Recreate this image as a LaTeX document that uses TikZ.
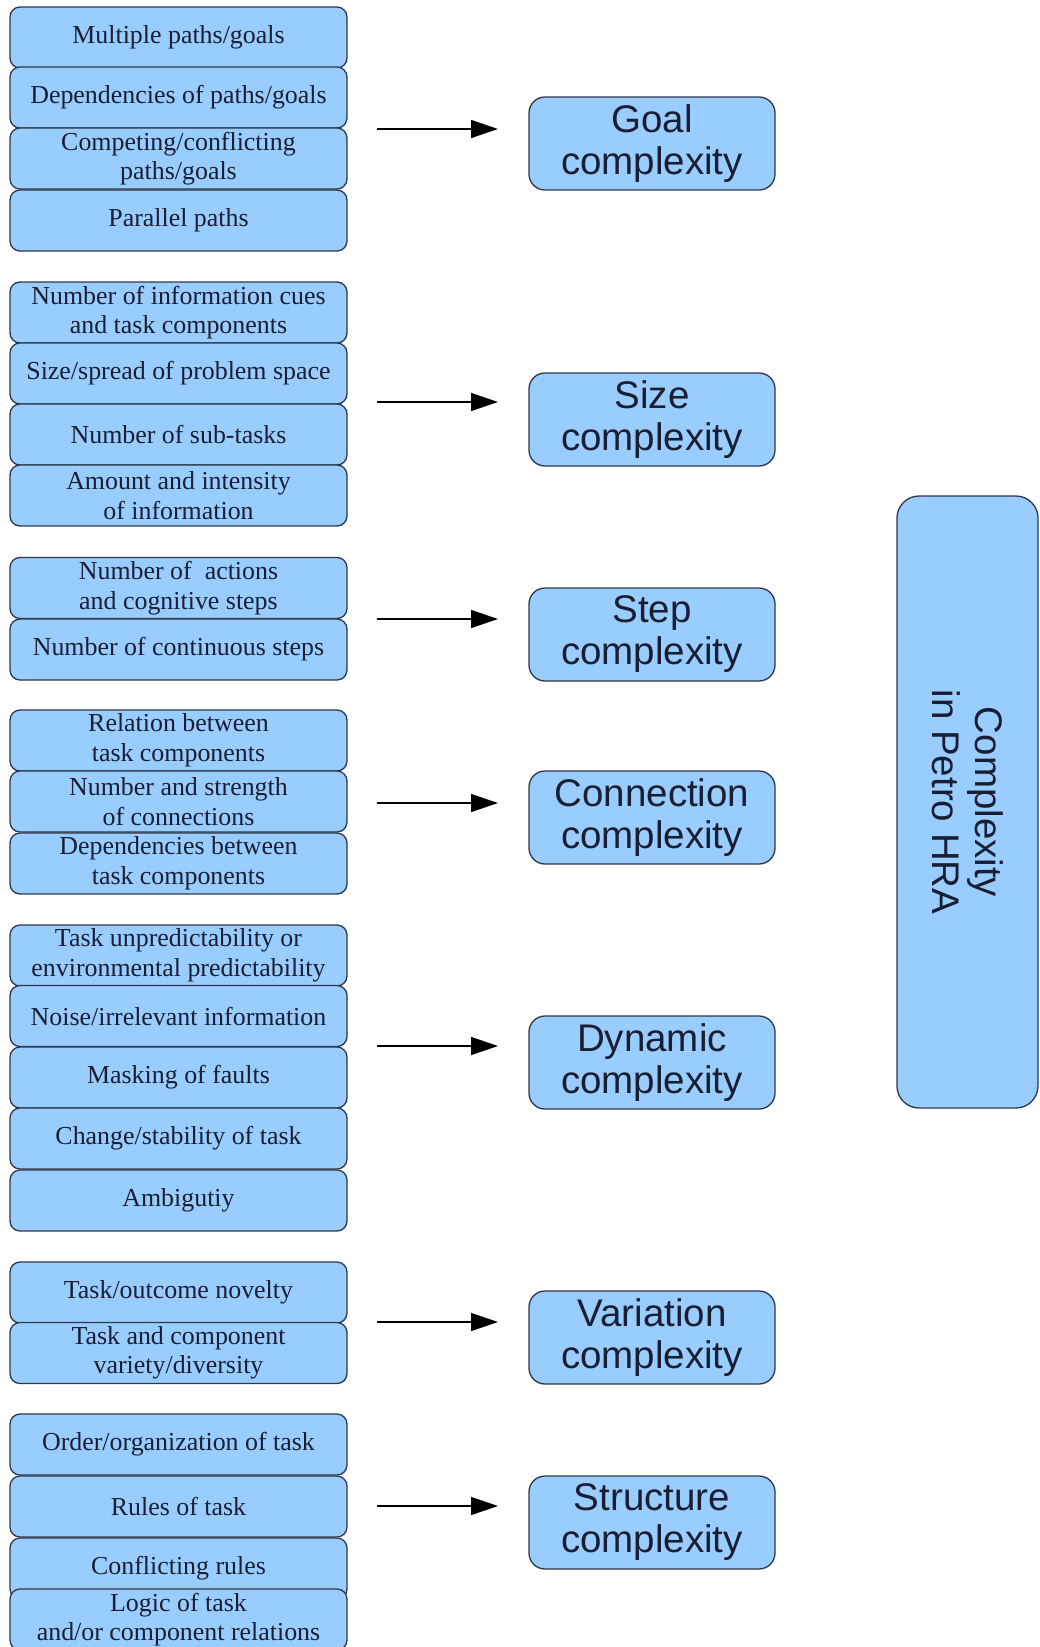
\documentclass[tikz,border=0pt]{standalone}
\usepackage{fontspec}
\setmainfont{Liberation Serif}
\newfontfamily\arialf{Liberation Sans}
\usetikzlibrary{arrows.meta}
\definecolor{boxfill}{RGB}{153,204,255}
\definecolor{boxline}{RGB}{45,55,75}
\definecolor{txt}{RGB}{25,30,50}
\begin{document}
\begin{tikzpicture}[x=1pt,y=-1pt,
 item/.style={draw=boxline, line width=1.3pt, fill=boxfill, rounded corners=10pt,
   minimum width=337pt, minimum height=61pt, inner sep=0pt, align=center, text=txt,
   font=\fontsize{25.9}{29.5}\selectfont},
 cat/.style={draw=boxline, line width=1.3pt, fill=boxfill, rounded corners=16pt,
   minimum width=246pt, minimum height=93pt, inner sep=0pt, align=center, text=txt,
   font=\arialf\fontsize{38.5}{42}\selectfont},
 bigbox/.style={draw=boxline, line width=1.3pt, fill=boxfill, rounded corners=22pt,
   minimum width=612pt, minimum height=141pt, inner sep=0pt, align=center, text=txt,
   rotate=-90, font=\arialf\fontsize{38.5}{43}\selectfont},
 arr/.style={line width=1.4pt, draw=black, -{Triangle[length=27pt,width=18pt]}}
]
\useasboundingbox (0,0) rectangle (1040,1647);
\fill[white] (0,0) rectangle (1040,1647);

% Goal group
\node[item] (g1) at (178.5,37.5) {Multiple paths/goals};
\node[item] (g2) at (178.5,97.5) {Dependencies of paths/goals};
\node[item] (g3) at (178.5,158.5) {Competing/conflicting\\paths/goals};
\node[item] (g4) at (178.5,220.5) {Parallel paths};

% Size group
\node[item] (s1) at (178.5,312.5) {Number of information cues\\and task components};
\node[item] (s2) at (178.5,373.5) {Size/spread of problem space};
\node[item] (s3) at (178.5,434.5) {Number of sub-tasks};
\node[item] (s4) at (178.5,495.5) {Amount and intensity\\of information};

% Step group
\node[item] (t1) at (178.5,588) {Number of \ actions\\and cognitive steps};
\node[item] (t2) at (178.5,649.5) {Number of continuous steps};

% Connection group
\node[item] (c1) at (178.5,740.5) {Relation between\\task components};
\node[item] (c2) at (178.5,801.5) {Number and strength\\of connections};
\node[item] (c3) at (178.5,863.5) {Dependencies between\\task components};

% Dynamic group
\node[item] (d1) at (178.5,955.5) {Task unpredictability or\\environmental predictability};
\node[item] (d2) at (178.5,1016) {Noise/irrelevant information};
\node[item] (d3) at (178.5,1077.5) {Masking of faults};
\node[item] (d4) at (178.5,1138.5) {Change/stability of task};
\node[item] (d5) at (178.5,1200.5) {Ambigutiy};

% Variation group
\node[item] (v1) at (178.5,1292.5) {Task/outcome novelty};
\node[item] (v2) at (178.5,1353) {Task and component\\variety/diversity};

% Structure group
\node[item] (r1) at (178.5,1444.5) {Order/organization of task};
\node[item] (r2) at (178.5,1506.5) {Rules of task};
\node[item] (r3) at (178.5,1568.5) {Conflicting rules};
\node[item] (r4) at (178.5,1619.5) {Logic of task\\and/or component relations};

% Category boxes
\node[cat] (goal) at (652,143.5) {Goal\\complexity};
\node[cat] (size) at (652,419.5) {Size\\complexity};
\node[cat] (step) at (652,634.5) {Step\\complexity};
\node[cat] (conn) at (652,817.5) {Connection\\complexity};
\node[cat] (dyn) at (652,1062.5) {Dynamic\\complexity};
\node[cat] (var) at (652,1337.5) {Variation\\complexity};
\node[cat] (struc) at (652,1522.5) {Structure\\complexity};

% Big box
\node[bigbox] (petro) at (967.5,802) {Complexity\\in Petro HRA};

% Arrows
\foreach \n/\y in {ga/129, sa/402, ta/619, ca/803, da/1046, va/1322, ra/1506}{
  \coordinate (\n s) at (377,\y);
  \coordinate (\n e) at (498,\y);
}
\draw[arr] (gas) -- (gae);
\draw[arr] (sas) -- (sae);
\draw[arr] (tas) -- (tae);
\draw[arr] (cas) -- (cae);
\draw[arr] (das) -- (dae);
\draw[arr] (vas) -- (vae);
\draw[arr] (ras) -- (rae);
\end{tikzpicture}
\end{document}
